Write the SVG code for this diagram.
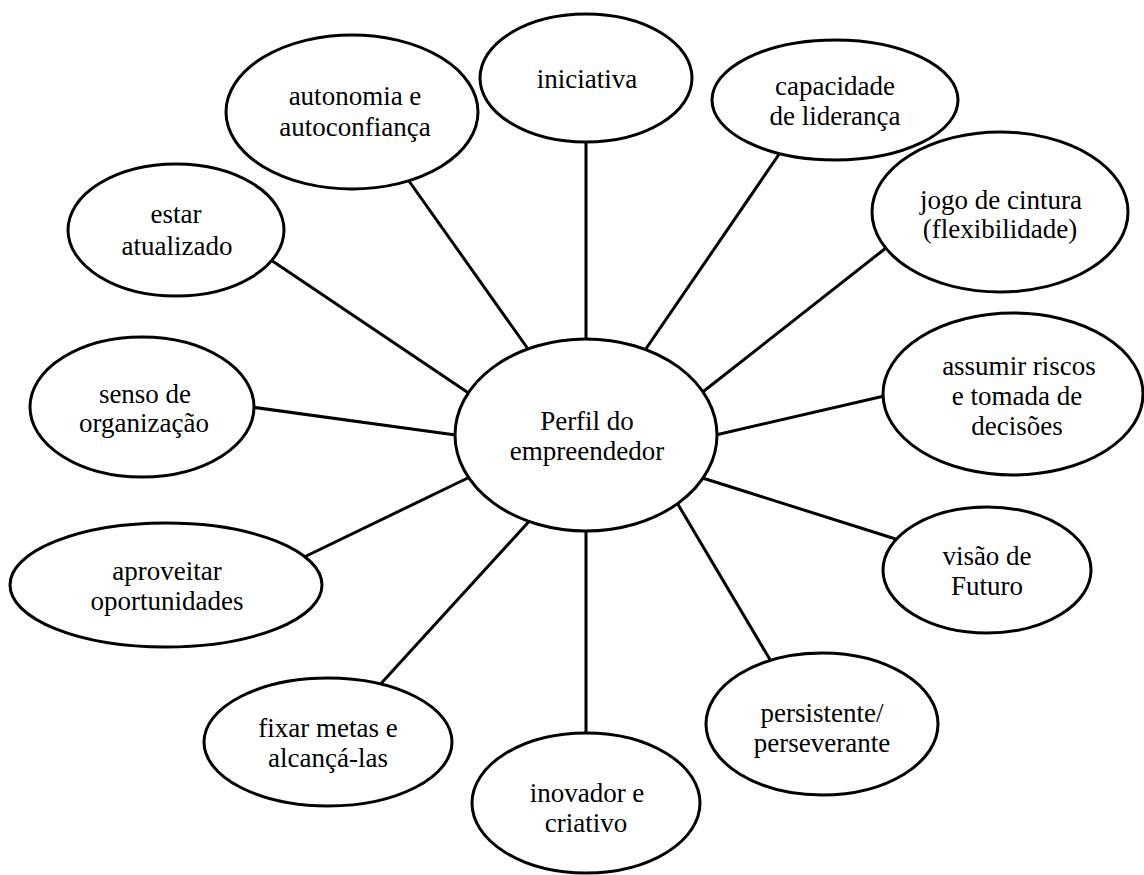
<svg xmlns="http://www.w3.org/2000/svg" width="1144" height="875" viewBox="0 0 1144 875">
  <style>
    .node ellipse { fill: #fff; stroke: #000; stroke-width: 3; }
    .node text { font-family: Times, 'Times New Roman', 'Liberation Serif', Tinos, 'Noto Serif', 'DejaVu Serif', FreeSerif, serif; font-size: 27px; fill: #000; text-anchor: middle; }
    #connectors line { stroke: #000; stroke-width: 3; }
  </style>
  <rect width="1144" height="875" fill="#fff"/>

  <!-- spokes from the hub to each trait -->
  <g id="connectors">
    <line x1="586" y1="132" x2="586" y2="348"/>
    <line x1="404" y1="174" x2="533" y2="356"/>
    <line x1="784" y1="147" x2="641" y2="356"/>
    <line x1="265" y1="256" x2="476" y2="398"/>
    <line x1="891" y1="244" x2="695" y2="398"/>
    <line x1="244" y1="406" x2="463" y2="436"/>
    <line x1="893" y1="394" x2="707" y2="437"/>
    <line x1="298" y1="560" x2="476" y2="474"/>
    <line x1="902" y1="541" x2="693" y2="475"/>
    <line x1="376" y1="689" x2="534" y2="516"/>
    <line x1="586" y1="743" x2="586" y2="521"/>
    <line x1="775" y1="668" x2="673" y2="496"/>
  </g>

  <g id="hub" class="node">
    <ellipse cx="586" cy="435" rx="131" ry="96"/>
    <text x="587" y="430">Perfil do</text>
    <text x="587" y="460">empreendedor</text>
  </g>

  <g id="iniciativa" class="node">
    <ellipse cx="586" cy="78" rx="106" ry="64"/>
    <text x="587" y="88">iniciativa</text>
  </g>

  <g id="autonomia" class="node">
    <ellipse cx="352" cy="112" rx="126" ry="77"/>
    <text x="355" y="105">autonomia e</text>
    <text x="355" y="136">autoconfiança</text>
  </g>

  <g id="lideranca" class="node">
    <ellipse cx="835" cy="100" rx="123" ry="60"/>
    <text x="835" y="95">capacidade</text>
    <text x="835" y="125">de liderança</text>
  </g>

  <g id="flexibilidade" class="node">
    <ellipse cx="1000" cy="212" rx="128" ry="80"/>
    <text x="1001" y="209">jogo de cintura</text>
    <text x="1000" y="238">(flexibilidade)</text>
  </g>

  <g id="atualizado" class="node">
    <ellipse cx="176" cy="230" rx="108" ry="66"/>
    <text x="176" y="223">estar</text>
    <text x="177" y="255">atualizado</text>
  </g>

  <g id="organizacao" class="node">
    <ellipse cx="142" cy="407" rx="112" ry="70"/>
    <text x="145" y="403">senso de</text>
    <text x="144" y="432">organização</text>
  </g>

  <g id="riscos" class="node">
    <ellipse cx="1013" cy="394" rx="130" ry="81"/>
    <text x="1019" y="375">assumir riscos</text>
    <text x="1017" y="405">e tomada de</text>
    <text x="1017" y="435">decisões</text>
  </g>

  <g id="oportunidades" class="node">
    <ellipse cx="166" cy="585" rx="156" ry="62"/>
    <text x="167" y="580">aproveitar</text>
    <text x="167" y="610">oportunidades</text>
  </g>

  <g id="futuro" class="node">
    <ellipse cx="987" cy="570" rx="104" ry="63"/>
    <text x="987" y="565">visão de</text>
    <text x="987" y="595">Futuro</text>
  </g>

  <g id="metas" class="node">
    <ellipse cx="328" cy="742" rx="124" ry="64"/>
    <text x="328" y="737">fixar metas e</text>
    <text x="328" y="767">alcançá-las</text>
  </g>

  <g id="inovador" class="node">
    <ellipse cx="586" cy="803" rx="114" ry="70"/>
    <text x="587" y="802">inovador e</text>
    <text x="586" y="832">criativo</text>
  </g>

  <g id="persistente" class="node">
    <ellipse cx="822" cy="724" rx="116" ry="71"/>
    <text x="822" y="722">persistente/</text>
    <text x="822" y="752">perseverante</text>
  </g>
</svg>
